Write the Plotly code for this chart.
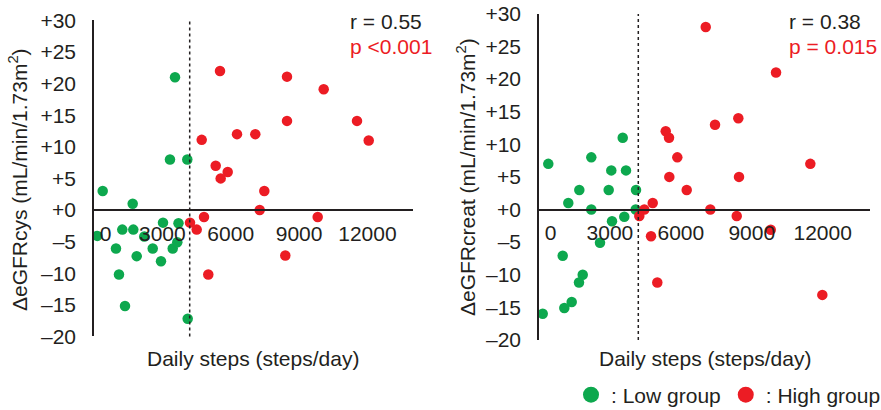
import plotly.graph_objects as go

# ---------------- data ----------------
cys_low_steps = [3335, 4095, 3555, 382, 1698, 145, 1242, 1725, 2207, 965,
                 1874, 2576, 2940, 3454, 3656, 1097, 1360, 4112, 3028, 3708]
cys_low_delta = [8, 8, 21, 3, 1, -4.1, -3.1, -3.1, -4.2, -6.1,
                 -7.3, -6.1, -8.1, -6.1, -5.1, -10.2, -15.2, -17.2, -2.0, -2.1]
cys_high_steps = [5530, 8470, 10081, 8470, 11542, 4727, 6276, 7079, 12056, 5341,
                  5868, 5560, 7474, 7272, 9818, 4828, 4213, 4507, 8396, 5016]
cys_high_delta = [22, 21.1, 19.1, 14.1, 14.1, 11.1, 12, 12, 11, 7,
                  6, 5, 3, 0, -1.1, -1.1, -2, -3.1, -7.2, -10.2]

creat_low_steps = [3541, 393, 2212, 3058, 3680, 1705, 2948, 4103, 1239, 2212,
                   4090, 3608, 2580, 1003, 1849, 1692, 1383, 1070, 157, 3088]
creat_low_delta = [11, 7, 8, 6, 6, 3, 3, 3, 1, 0,
                   0, -1.1, -5.1, -7.1, -10, -11.2, -14.2, -15.1, -16, -1.8]
creat_high_steps = [7052, 10025, 8431, 7445, 5360, 5499, 5850, 11476, 5512, 8460,
                    6248, 4810, 4454, 4243, 7246, 8363, 9801, 4738, 5004, 11984]
creat_high_delta = [28, 21, 14, 13, 12, 11, 8, 7, 5, 5,
                    3, 1, 0, -1, 0, -1, -3.1, -4.1, -11.2, -13.1]

median_steps = 4200

x_tickvals = [0, 3000, 6000, 9000, 12000]
# the "0" label sits just right of the y-axis line in the original
x_ticktext = ["\u00a0\u00a0\u00a0\u00a00", "3000", "6000", "9000", "12000"]
y_tickvals = [-20, -15, -10, -5, 0, 5, 10, 15, 20, 25, 30]
y_ticktext = ["\u201320", "\u201315", "\u201310", "\u20135", "+0", "+5",
              "+10", "+15", "+20", "+25", "+30"]

group_names = [": Low group", ": High group"]
stats_cys = ("r = 0.55", "p <0.001")
stats_creat = ("r = 0.38", "p = 0.015")

# ---------------- style ----------------
GREEN = "#0DA84E"
RED = "#EC1C24"
INK = "#231F20"
FONT = "Liberation Sans, Arial, Helvetica, sans-serif"
FS = 21
W, H = 881, 410

fig = go.Figure()

def add_pts(x, y, color, xa, ya):
    fig.add_trace(go.Scatter(
        x=x, y=y, mode="markers", showlegend=False, hoverinfo="skip",
        xaxis=xa, yaxis=ya,
        marker=dict(color=color, size=10.5, line=dict(width=0))))

add_pts(cys_low_steps, cys_low_delta, GREEN, "x", "y")
add_pts(cys_high_steps, cys_high_delta, RED, "x", "y")
add_pts(creat_low_steps, creat_low_delta, GREEN, "x2", "y2")
add_pts(creat_high_steps, creat_high_delta, RED, "x2", "y2")

# legend entries (no data, legend symbol only)
for name, color in zip(group_names, (GREEN, RED)):
    fig.add_trace(go.Scatter(x=[None], y=[None], mode="markers", name=name,
                             showlegend=True, xaxis="x", yaxis="y",
                             marker=dict(color=color, size=20, line=dict(width=0))))

def px_x(p):
    return p / W

def px_y(p):
    return 1 - p / H

left_dom_x = [px_x(94), px_x(413)]
left_dom_y = [px_y(336.4), px_y(20.4)]
right_dom_x = [px_x(539), px_x(870)]
right_dom_y = [px_y(339.9), px_y(13.9)]

def xaxis_cfg(dom, pos):
    return dict(domain=dom, range=[0, 14000], anchor="free", position=pos,
                showline=True, linecolor=INK, linewidth=1.5, showgrid=False,
                zeroline=False, ticks="", tickvals=x_tickvals, ticktext=x_ticktext,
                tickfont=dict(family=FONT, size=FS, color=INK),
                ticklabelstandoff=5, automargin=False, fixedrange=True)

def yaxis_cfg(dom, anchor):
    return dict(domain=dom, range=[-20, 30], anchor=anchor,
                showline=True, linecolor=INK, linewidth=1.5, showgrid=False,
                zeroline=False, ticks="", tickvals=y_tickvals, ticktext=y_ticktext,
                tickfont=dict(family=FONT, size=FS, color=INK),
                ticklabelstandoff=12, automargin=False, fixedrange=True)

# x-axis sits at y = 0
pos_left = left_dom_y[0] + (0 - (-20)) / 50 * (left_dom_y[1] - left_dom_y[0])
pos_right = right_dom_y[0] + (0 - (-20)) / 50 * (right_dom_y[1] - right_dom_y[0])

fig.update_layout(
    width=W, height=H,
    margin=dict(l=0, r=0, t=0, b=0, pad=0, autoexpand=False),
    paper_bgcolor="white", plot_bgcolor="rgba(0,0,0,0)",
    font=dict(family=FONT, size=FS, color=INK),
    xaxis=xaxis_cfg(left_dom_x, pos_left),
    yaxis=yaxis_cfg(left_dom_y, "x"),
    xaxis2=xaxis_cfg(right_dom_x, pos_right),
    yaxis2=yaxis_cfg(right_dom_y, "x2"),
    legend=dict(orientation="h", x=px_x(571), xanchor="left",
                y=px_y(395), yanchor="middle",
                bgcolor="rgba(0,0,0,0)", borderwidth=0,
                font=dict(family=FONT, size=FS, color=INK),
                itemclick=False, itemdoubleclick=False),
    showlegend=True,
    hovermode=False,
)

# median dotted lines
for xr, yr in (("x", "y domain"), ("x2", "y2 domain")):
    fig.add_shape(type="line", xref=xr, yref=yr, x0=median_steps, x1=median_steps,
                  y0=0, y1=1, line=dict(color=INK, width=1.5, dash="dot"))

annots = []
for cx in (253.5, 704.5):
    annots.append(dict(text="Daily steps (steps/day)", xref="paper", yref="paper",
                       x=px_x(cx), y=px_y(358), xanchor="center", yanchor="middle",
                       showarrow=False, font=dict(family=FONT, size=FS, color=INK)))
annots.append(dict(text="\u0394eGFRcys (mL/min/1.73m<sup>2</sup>)", xref="paper", yref="paper",
                   x=px_x(18), y=px_y(180), xanchor="center", yanchor="middle",
                   textangle=-90, showarrow=False,
                   font=dict(family=FONT, size=FS, color=INK)))
annots.append(dict(text="\u0394eGFRcreat (mL/min/1.73m<sup>2</sup>)", xref="paper", yref="paper",
                   x=px_x(466), y=px_y(177), xanchor="center", yanchor="middle",
                   textangle=-90, showarrow=False,
                   font=dict(family=FONT, size=FS, color=INK)))
for (r_txt, p_txt), lx in ((stats_cys, 348), (stats_creat, 787)):
    annots.append(dict(text=r_txt, xref="paper", yref="paper", x=px_x(lx), y=px_y(21),
                       xanchor="left", yanchor="middle", showarrow=False,
                       font=dict(family=FONT, size=FS, color=INK)))
    annots.append(dict(text=p_txt, xref="paper", yref="paper", x=px_x(lx), y=px_y(47),
                       xanchor="left", yanchor="middle", showarrow=False,
                       font=dict(family=FONT, size=FS, color=RED)))
fig.update_layout(annotations=annots)

fig.write_html("out.html", config={"displayModeBar": False, "staticPlot": False},
               post_script="document.body.style.margin='0px';")
